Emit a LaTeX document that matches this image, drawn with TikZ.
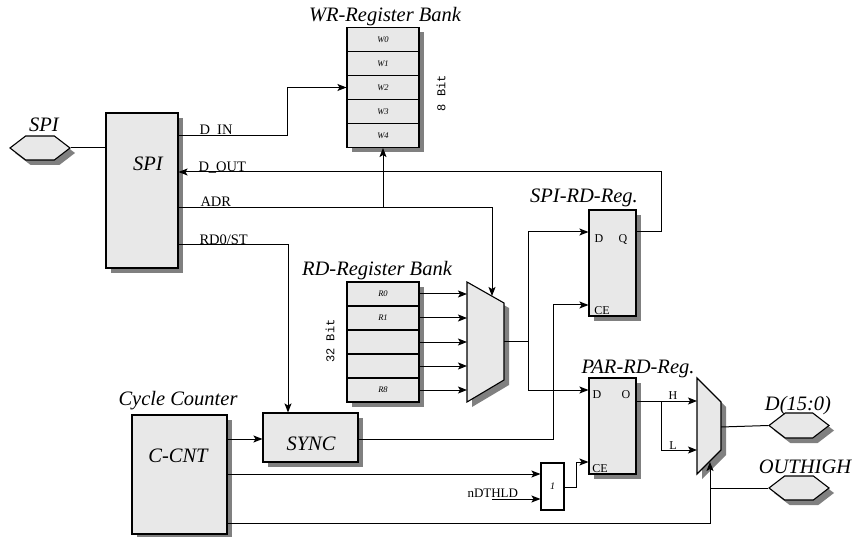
\documentclass[tikz,border=0pt]{standalone}
\usepackage{fontspec}
\setmainfont{Liberation Serif}
\setmonofont{Liberation Mono}
\usetikzlibrary{arrows.meta,shadows,shapes.symbols}
\newcommand{\reglbl}[1]{\fontsize{8.5}{9}\selectfont\itshape #1}

\begin{document}
\begin{tikzpicture}[x=1pt,y=-1pt,line width=1pt,
		shd/.style={drop shadow={shadow xshift=5pt,shadow yshift=-5pt,opacity=1,fill=black!50}},
		blk/.style={draw,line width=1.1pt,fill=black!9,inner sep=0pt,shd},
		row/.style={blk,minimum width=72pt,minimum height=24pt},
		port/.style={blk,signal,signal to=east and west,signal pointer angle=75,minimum width=60pt,minimum height=24pt},
		title/.style={font=\fontsize{20.5}{24}\selectfont\itshape,anchor=base,inner sep=0pt},
		sig/.style={font=\fontsize{14.5}{16}\selectfont,anchor=base west,inner sep=0pt},
		pin/.style={font=\fontsize{12}{14}\selectfont,anchor=base,inner sep=0pt},
		bits/.style={font=\ttfamily\fontsize{12}{14}\selectfont,rotate=90,inner sep=0pt},
		arr/.style={-{Stealth[length=9pt,width=7pt,inset=2pt]}}]
	\useasboundingbox (0,0) rectangle (854,537);

	% ports
	\node[port] (spiport) at (40,148) {};
	\node[title] at (44,132) {SPI};
	\node[port,minimum height=25pt] (dport) at (799,425.5) {};
	\node[title] at (798,410) {D(15:0)};
	\node[port] (hiport) at (799,488) {};
	\node[title] at (805,473) {OUTHIGH};

	% blocks
	\node[blk,minimum width=72pt,minimum height=155pt] (spi) at (142,190.5) {};
	\node[title] at (148,171) {SPI};
	\node[blk,minimum width=95pt,minimum height=119pt] (ccnt) at (179.5,474.5) {};
	\node[title] at (178,462) {C-CNT};
	\node[title] at (178,405) {Cycle Counter};
	\node[blk,minimum width=95pt,minimum height=49pt] (sync) at (310.5,437.5) {};
	\node[title] at (311,450) {SYNC};
	\node[draw,line width=1.1pt,fill=white,minimum width=23pt,minimum height=47pt] (gate) at (552.5,486.5) {\fontsize{10}{12}\selectfont\itshape 1};

	% register banks
	\foreach \i in {0,...,4}
		\node[row] (w\i) at (383,39.5+24*\i) {\reglbl{W\i}};
	\node[title] at (385,22) {WR-Register Bank};
	\node[bits] at (441,93) {8 Bit};
	\foreach \i/\t in {0/R0,1/R1,2/,3/,4/R8}
		\node[row] (r\i) at (383,294+24*\i) {\reglbl{\t}};
	\node[title] at (377,276) {RD-Register Bank};
	\node[bits] at (330,341) {32 Bit};

	% read registers
	\node[blk,minimum width=47pt,minimum height=106pt] (spird) at (612.5,263) {};
	\node[title] at (584,203) {SPI-RD-Reg.};
	\node[pin] at (599,243) {D};
	\node[pin] at (623,243) {Q};
	\node[pin] at (602,315) {CE};
	\node[blk,minimum width=47pt,minimum height=96pt] (parrd) at (612.5,426) {};
	\node[title] at (638,373) {PAR-RD-Reg.};
	\node[pin] at (597,398) {D};
	\node[pin] at (626,398) {O};
	\node[pin] at (600,472) {CE};

	% multiplexers
	\draw[blk] (467,282) -- (504,303) -- (504,380) -- (467,402) -- cycle;
	\coordinate (m1in) at (467,342);
	\coordinate (m1out) at (504,341);
	\coordinate (m1top) at (492,296);
	\draw[blk] (697,378) -- (721,402) -- (721,450) -- (697,474) -- cycle;
	\coordinate (m2in) at (697,426);
	\coordinate (m2out) at (721,427);
	\coordinate (m2bot) at (710,462);

	% SPI side
	\draw (spiport.east) -- (spi.west |- spiport.east);
	\draw[arr] (spi.east |- 0,136) -- (287,136) |- (w2.west);
	\node[sig] at (199,135) {D\_IN};
	\draw[arr] (spird.east |- 0,232) -- (661,232) |- (spi.east |- 0,172);
	\node[sig] at (198,172) {D\_OUT};
	\draw[arr] (spi.east |- 0,208) -| (m1top);
	\draw[arr] (w4.south |- 0,208) -- (w4.south);
	\node[sig] at (200,207) {ADR};
	\draw[arr] (spi.east |- 0,245) -| (288,0 |- sync.north);
	\node[sig] at (199,245) {RD0/ST};

	% read path
	\foreach \i in {0,...,4}
		\draw[arr] (r\i.east) -- (r\i.east -| m1in);
	\draw[arr] (m1out) -- (528,341) |- (spird.west |- 0,232);
	\draw[arr] (528,341) |- (parrd.west |- 0,390);
	\draw[arr] (sync.east |- 0,439) -- (553,439) |- (spird.west |- 0,305);
	\draw[arr] (ccnt.east |- 0,439) -- (sync.west |- 0,439);
	\draw[arr] (ccnt.east |- 0,474) -- (gate.west |- 0,474);
	\node[font=\fontsize{13}{15}\selectfont,anchor=base west,inner sep=0pt] (nd) at (467,497) {nDTHLD};
	\draw[arr] (492,499) -- (gate.west |- 0,499);
	\draw[arr] (gate.east |- 0,487) -- (576,487) |- (parrd.west |- 0,462);

	% output side
	\draw[arr] (parrd.east |- 0,401) -- (m2in |- 0,401);
	\node[pin] at (673,399) {H};
	\draw[arr] (661,401) |- (m2in |- 0,450);
	\node[pin] at (673,449) {L};
	\draw (m2out) -- (dport.west);
	\draw[arr] (ccnt.east |- 0,523) -| (m2bot);
	\draw (hiport.west) -- (710,488);
\end{tikzpicture}
\end{document}
